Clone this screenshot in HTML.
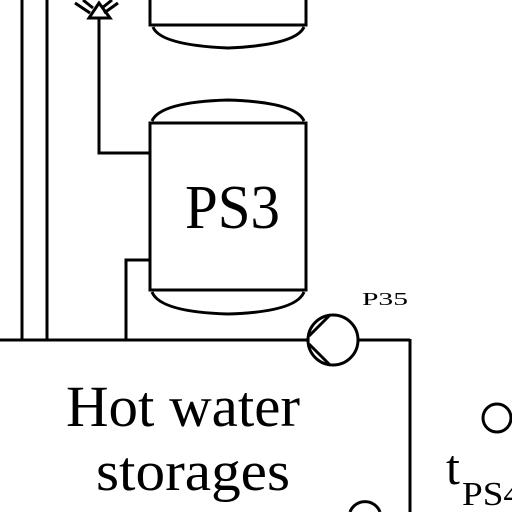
<!DOCTYPE html><html><head><style>html,body{margin:0;background:#fff;width:512px;height:512px;overflow:hidden}svg{display:block;overflow:hidden}</style></head><body>
<svg width="512" height="512" viewBox="0 0 512 512" xmlns="http://www.w3.org/2000/svg" font-family="Liberation Serif, serif">
<g stroke="#000" stroke-width="3" fill="none">
<line x1="22" y1="0" x2="22" y2="340"/>
<line x1="47" y1="0" x2="47" y2="340"/>
<line x1="0" y1="340" x2="308" y2="340"/>
<line x1="359" y1="340" x2="410" y2="340"/>
<line x1="410" y1="339" x2="410" y2="512"/>
<polyline points="99,18 99,153 150,153"/>
<polyline points="150,260 126,260 126,340"/>
<polygon points="99,3 89,18 110,18"/>
<path d="M75,3 L90,13 M118,3 L104,13 M83,0 L93,8 M112,0 L102,8"/>
<path d="M150,0 V25 H306 V0"/>
<path d="M153,27 Q160,45 228,48 Q296,45 304,27"/>
<rect x="150" y="123" width="156" height="167"/>
<path d="M152,121 Q160,102 228,100 Q296,102 304,121"/>
<path d="M152,292 Q160,312 228,314 Q296,312 304,292"/>
<circle cx="333" cy="340" r="25"/>
<path d="M329,316 L309,336 M309,344 L329,364"/>
<circle cx="497" cy="418" r="14"/>
<path d="M350,512 A16,16 0 0 1 380,512"/>
</g>
<text x="185" y="228" font-size="62" textLength="95" lengthAdjust="spacingAndGlyphs">PS3</text>
<text x="66" y="426" font-size="58" textLength="234" lengthAdjust="spacingAndGlyphs">Hot water</text>
<text x="96" y="490" font-size="56" textLength="194" lengthAdjust="spacingAndGlyphs">storages</text>
<text x="362" y="305" font-size="18" textLength="46" lengthAdjust="spacingAndGlyphs">P35</text>
<text x="446" y="484" font-size="50">t</text>
<text x="462" y="505" font-size="34" textLength="60" lengthAdjust="spacingAndGlyphs">PS4</text>
</svg>
</body></html>
